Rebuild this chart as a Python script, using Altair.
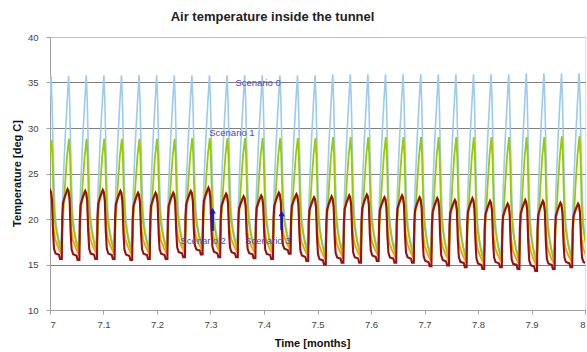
import altair as alt
import pandas as pd

# ---------------- data ----------------
PERIOD = 0.0329          # one daily cycle, in months
FIRST_PEAK = {"Scenario 0": 7.002, "Scenario 1": 7.0026, "Scenario 2": 7.000, "Scenario 3": 7.000}

# peak of each daily cycle (cycles -1 .. 31)
s0_peak = [35.7, 35.7, 35.7, 35.8, 35.8, 35.8, 35.8, 35.8, 35.8, 35.8, 35.8, 35.8, 35.8, 35.8, 35.8, 35.8, 35.8,
           35.9, 35.9, 35.9, 35.9, 35.9, 35.9, 35.9, 35.9, 35.9, 35.9, 35.9, 36.0, 36.0, 36.0, 36.0, 36.0]
s1_peak = [28.7, 28.7, 28.8, 28.8, 28.8, 28.8, 28.8, 28.8, 28.8, 28.9, 28.9, 28.9, 28.9, 28.9, 28.9, 28.9, 28.9,
           29.0, 29.0, 29.0, 29.0, 29.0, 29.0, 29.0, 29.0, 29.0, 29.0, 29.0, 29.0, 29.0, 29.1, 29.1, 29.1]
s2_peak = [23.0, 23.0, 23.1, 22.9, 23.0, 22.9, 22.7, 22.7, 22.7, 22.9, 23.2, 22.6, 22.3, 22.4, 22.7, 22.5, 22.2,
           22.3, 22.4, 22.5, 22.2, 22.4, 22.2, 22.1, 21.9, 22.1, 21.8, 21.5, 21.9, 21.8, 21.6, 21.5, 21.5]
s3_peak = [23.2, 23.2, 23.3, 23.1, 23.2, 23.1, 22.9, 22.9, 22.9, 23.1, 23.45, 22.8, 22.5, 22.6, 22.9, 22.75, 22.4,
           22.5, 22.6, 22.7, 22.4, 22.6, 22.4, 22.3, 22.1, 22.3, 22.0, 21.7, 22.1, 22.0, 21.8, 21.7, 21.7]

# trough of each daily cycle (cycles -1 .. 30)
s0_min = [17.2, 17.2, 17.1, 17.2, 17.2, 17.1, 17.2, 17.2, 17.4, 17.6, 17.4, 17.4, 17.3, 17.2, 17.7, 17.0,
          16.6, 16.8, 16.8, 17.0, 16.8, 16.8, 16.4, 16.5, 16.3, 16.1, 16.3, 16.1, 15.9, 16.1, 16.3, 16.3]
s1_min = [16.5, 16.5, 16.4, 16.5, 16.5, 16.4, 16.5, 16.5, 16.7, 16.9, 16.7, 16.7, 16.6, 16.5, 17.0, 16.3,
          15.9, 16.1, 16.1, 16.3, 16.1, 16.1, 15.7, 15.8, 15.6, 15.4, 15.6, 15.4, 15.2, 15.4, 15.6, 15.6]
s2_min = [16.1, 16.1, 16.0, 16.1, 16.1, 16.0, 16.1, 16.1, 16.3, 16.5, 16.3, 16.3, 16.2, 16.1, 16.6, 15.9,
          15.5, 15.7, 15.7, 15.9, 15.7, 15.7, 15.3, 15.4, 15.2, 15.0, 15.2, 15.0, 14.8, 15.0, 15.2, 15.2]
s3_min = [15.6, 15.6, 15.5, 15.6, 15.6, 15.5, 15.6, 15.6, 15.8, 16.1, 15.8, 15.8, 15.7, 15.6, 16.2, 15.4,
          15.0, 15.2, 15.2, 15.4, 15.2, 15.2, 14.8, 14.9, 14.7, 14.5, 14.7, 14.5, 14.3, 14.5, 14.7, 14.7]

# shape of one day: phase after the peak (share of a day) and share of the swing
s0_phase = [0.0, 0.057, 0.114, 0.170, 0.227, 0.341, 0.455, 0.540, 0.597, 0.682, 0.795, 0.909]
s0_shape = [1.0, 0.84, 0.57, 0.35, 0.19, 0.08, 0.02, 0.0, 0.08, 0.35, 0.62, 0.84]
s1_phase = [0.0, 0.057, 0.125, 0.210, 0.381, 0.551, 0.608, 0.665, 0.778, 0.892]
s1_shape = [1.0, 0.85, 0.45, 0.25, 0.10, 0.0, 0.10, 0.30, 0.60, 0.85]
s2_phase = [0.0, 0.057, 0.114, 0.199, 0.284, 0.455, 0.653, 0.699, 0.739, 0.852, 0.966]
s2_shape = [1.0, 0.97, 0.85, 0.45, 0.25, 0.12, 0.0, 0.55, 0.78, 0.90, 0.98]
s3_phase = [0.0, 0.057, 0.114, 0.170, 0.227, 0.313, 0.511, 0.568, 0.670, 0.699, 0.739, 0.852, 0.966]
s3_shape = [1.0, 0.97, 0.85, 0.40, 0.15, 0.08, 0.06, 0.0, 0.0, 0.60, 0.80, 0.90, 0.98]

series = ["Scenario 0", "Scenario 1", "Scenario 2", "Scenario 3"]
colors = ["#9ccaf2", "#99cc00", "#ff9900", "#991010"]
widths = [1.6, 1.8, 1.8, 2.1]

# annotations
ann_text = ["Scenario 0", "Scenario 1", "Scenario 2", "Scenario 3"]
ann_x = [7.389, 7.340, 7.286, 7.407]
ann_y = [35.0, 29.5, 17.6, 17.6]
arrow_x = [7.304, 7.433]
arrow_from = [18.7, 18.8]
arrow_to = [20.9, 20.6]


def build(name, phases, shape, peaks, mins):
    rows = []
    x0 = FIRST_PEAK[name]
    for c in range(len(mins)):
        for f, n in zip(phases, shape):
            hi = peaks[c] if f <= 0.5 else peaks[c + 1]
            lo = mins[c]
            rows.append({"series": name, "x": x0 + (c - 1 + f) * PERIOD, "y": lo + (hi - lo) * n})
    rows.append({"series": name, "x": x0 + (len(mins) - 1) * PERIOD, "y": peaks[len(mins)]})
    return pd.DataFrame(rows)


frames = [
    build("Scenario 0", s0_phase, s0_shape, s0_peak, s0_min),
    build("Scenario 1", s1_phase, s1_shape, s1_peak, s1_min),
    build("Scenario 2", s2_phase, s2_shape, s2_peak, s2_min),
    build("Scenario 3", s3_phase, s3_shape, s3_peak, s3_min),
]

FONT = "Liberation Sans"
xscale = alt.Scale(domain=[7, 8], nice=False, zero=False)
yscale = alt.Scale(domain=[10, 40], nice=False, zero=False)

xaxis = alt.Axis(
    values=[7, 7.1, 7.2, 7.3, 7.4, 7.5, 7.6, 7.7, 7.8, 7.9, 8], format=".1~f",
    grid=False, tickSize=4, tickColor="#a0a0a0", domainColor="#a0a0a0",
    labelFont=FONT, labelFontSize=9.5, labelColor="#444444", labelPadding=5,
    title="Time [months]", titleFont=FONT, titleFontSize=11, titleFontWeight="bold",
    titleColor="#111111", titleX=262, titleY=33, titleAlign="center", titleBaseline="middle",
)
yaxis = alt.Axis(
    values=[10, 15, 20, 25, 30, 35, 40], grid=True,
    gridColor={"condition": {"test": "datum.value == 40 || datum.value == 10", "value": "#c0c0c0"},
               "value": "#808080"},
    gridWidth=1.2, tickSize=4, tickColor="#a0a0a0", domainColor="#a0a0a0",
    labelFont=FONT, labelFontSize=9.5, labelColor="#444444", labelPadding=8,
    title="Temperature [deg C]", titleFont=FONT, titleFontSize=11, titleFontWeight="bold",
    titleColor="#111111", titleX=-33, titleY=136, titleAngle=270, titleAlign="center",
    titleBaseline="middle",
)

X = alt.X("x:Q", scale=xscale, axis=xaxis)
Y = alt.Y("y:Q", scale=yscale, axis=yaxis)

layers = []
for df, col, w in zip(frames, colors, widths):
    layers.append(alt.Chart(df).mark_line(clip=True, color=col, strokeWidth=w).encode(x=X, y=Y))

ann_df = pd.DataFrame({"t": ann_text, "x": ann_x, "y": ann_y})
layers.append(
    alt.Chart(ann_df).mark_text(font=FONT, fontSize=9.5, color="#4a4ac4", align="center", baseline="middle")
    .encode(x=X, y=Y, text="t:N")
)
arr_df = pd.DataFrame({"x": arrow_x, "y": arrow_from, "y2": arrow_to})
layers.append(
    alt.Chart(arr_df).mark_rule(color="#1414d2", strokeWidth=2.5)
    .encode(x=X, y=Y, y2="y2:Q")
)
layers.append(
    alt.Chart(arr_df).mark_point(shape="triangle-up", filled=True, color="#1414d2", size=40, opacity=1)
    .encode(x=X, y=alt.Y("y2:Q", scale=yscale, axis=yaxis))
)

chart = alt.layer(*layers).properties(
    width=535, height=273,
    autosize=alt.AutoSizeParams(type="none"),
    padding={"left": 50, "top": 37, "right": 2, "bottom": 42},
    title=alt.TitleParams(
        "Air temperature inside the tunnel", font=FONT, fontSize=13, fontWeight="bold",
        color="#222222", anchor="middle", dx=-45, offset=-2, baseline="alphabetic",
    ),
).configure_view(stroke="#c0c0c0", strokeWidth=1.2).configure(background="white")

chart.save("out.html", embed_options={"renderer": "svg", "actions": False})
